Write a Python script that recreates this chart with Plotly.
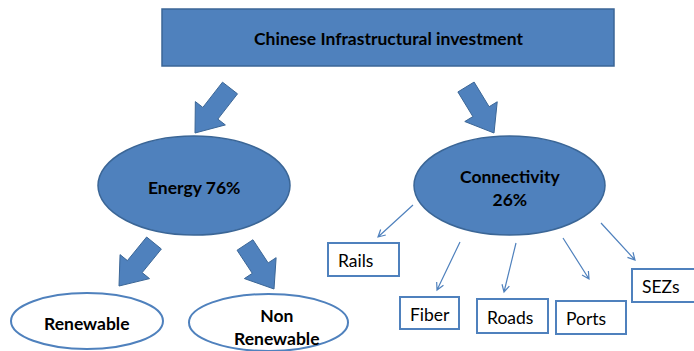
import numpy as np
import plotly.graph_objects as go

W, H = 694, 351
FILL = "#4F81BD"
EDGE = "#3B6696"
FONT = "Lato"

# ---- content ----
title = "Chinese Infrastructural investment"
branches = ["Energy", "Connectivity"]
shares = [76, 26]
energy_types = ["Renewable", "Non<br>Renewable"]
links = ["Rails", "Fiber", "Roads", "Ports", "SEZs"]

# ---- geometry (pixel units, y grows downward) ----
title_box = (162, 9, 614, 66)
branch_ellipses = [(98, 136, 290, 235), (414, 136, 605, 235)]
branch_label_sep = [" ", "<br>"]
type_ellipses = [(11, 293, 163, 349), (189, 294, 348, 351)]
type_label_pos = [(87, 323), (277, 327)]
link_boxes = [(328, 243, 399, 276), (400, 297, 459, 329), (477, 299, 548, 333),
              (556, 301, 626, 334), (632, 269, 705, 302)]
block_arrows = [((230, 88), (195, 133)), ((466, 87), (494, 133)),
                ((154, 243), (119, 286)), ((245, 245), (274, 289))]
thin_arrows = [((413, 205), (378, 237)), ((460, 242), (437, 290)),
               ((516, 243), (504, 292)), ((563, 238), (589, 279)),
               ((601, 223), (635, 260))]


def path_from(points, close=True):
    s = "M " + " L ".join(f"{x:.2f},{y:.2f}" for x, y in points)
    return s + (" Z" if close else "")


def block_arrow(tail, tip, shaft=19, head=38, head_len=25):
    t, p = np.array(tail, float), np.array(tip, float)
    u = (p - t) / np.linalg.norm(p - t)
    n = np.array([-u[1], u[0]])
    neck = p - u * head_len
    pts = [t + n * shaft / 2, neck + n * shaft / 2, neck + n * head / 2, p,
           neck - n * head / 2, neck - n * shaft / 2, t - n * shaft / 2]
    return path_from(pts)


def thin_arrow(start, end, barb=8, ang=np.radians(28)):
    s, e = np.array(start, float), np.array(end, float)
    u = (e - s) / np.linalg.norm(e - s)
    rot = lambda v, a: np.array([v[0] * np.cos(a) - v[1] * np.sin(a),
                                 v[0] * np.sin(a) + v[1] * np.cos(a)])
    b1 = e - rot(u, ang) * barb
    b2 = e - rot(u, -ang) * barb
    return (path_from([s, e], close=False) + " " + path_from([b1, e, b2], close=False))


shapes = []
annotations = []
bold_font = dict(size=17.5, color="#000", family=FONT)

# top box
x0, y0, x1, y1 = title_box
shapes.append(dict(type="rect", x0=x0, y0=y0, x1=x1, y1=y1, fillcolor=FILL,
                   line=dict(color=EDGE, width=1.5)))
annotations.append(dict(x=(x0 + x1) / 2, y=(y0 + y1) / 2 + 1, text=f"<b>{title}</b>",
                        showarrow=False, font=bold_font))

# block arrows
for tail, tip in block_arrows:
    shapes.append(dict(type="path", path=block_arrow(tail, tip), fillcolor=FILL,
                       line=dict(color=EDGE, width=1)))

# branch ellipses
for (x0, y0, x1, y1), name, pct, sep in zip(branch_ellipses, branches, shares, branch_label_sep):
    shapes.append(dict(type="circle", x0=x0, y0=y0, x1=x1, y1=y1, fillcolor=FILL,
                       line=dict(color=EDGE, width=1.5)))
    annotations.append(dict(x=(x0 + x1) / 2, y=(y0 + y1) / 2 + 2, text=f"<b>{name}{sep}{pct}%</b>",
                            showarrow=False, font=bold_font))

# energy sub-types
for (x0, y0, x1, y1), name, (tx, ty) in zip(type_ellipses, energy_types, type_label_pos):
    shapes.append(dict(type="circle", x0=x0, y0=y0, x1=x1, y1=y1, fillcolor="white",
                       line=dict(color=FILL, width=2)))
    annotations.append(dict(x=tx, y=ty, text=f"<b>{name}</b>",
                            showarrow=False, font=bold_font))

# connectivity links
for (x0, y0, x1, y1), name in zip(link_boxes, links):
    shapes.append(dict(type="rect", x0=x0, y0=y0, x1=x1, y1=y1, fillcolor="white",
                       line=dict(color=FILL, width=2)))
    annotations.append(dict(x=x0 + 8, y=(y0 + y1) / 2 + 1, text=name, xanchor="left",
                            showarrow=False,
                            font=dict(size=17.5, color="#000", family=FONT)))

for start, end in thin_arrows:
    shapes.append(dict(type="path", path=thin_arrow(start, end),
                       line=dict(color=FILL, width=1.2)))

fig = go.Figure()
fig.update_layout(
    width=W, height=H, margin=dict(l=0, r=0, t=0, b=0),
    paper_bgcolor="white", plot_bgcolor="white",
    xaxis=dict(range=[0, W], visible=False, fixedrange=True),
    yaxis=dict(range=[H, 0], visible=False, fixedrange=True),
    shapes=shapes, annotations=annotations, showlegend=False,
)
fig.write_html("out.html")
